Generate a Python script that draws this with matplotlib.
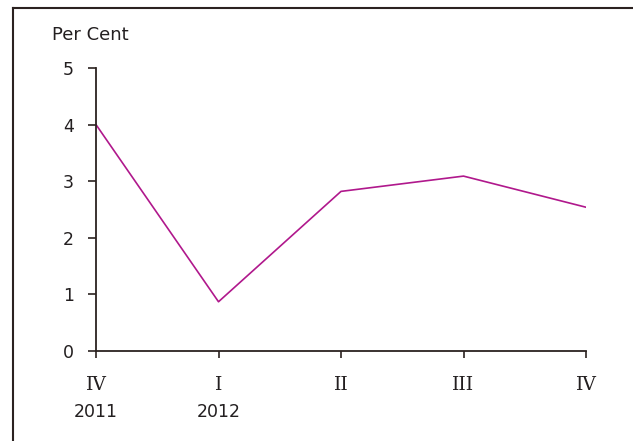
import matplotlib
matplotlib.use("Agg")
import matplotlib.pyplot as plt
from matplotlib.lines import Line2D
import matplotlib.transforms as mtransforms

quarters = ["IV", "I", "II", "III", "IV"]
years = ["2011", "2012", "", "", ""]
values = [4.0, 0.87, 2.82, 3.09, 2.54]
yticks = [0, 1, 2, 3, 4, 5]

W, H = 633, 441
fig = plt.figure(figsize=(W / 100, H / 100), dpi=100)
ax = fig.add_axes([96 / W, 1 - 351 / H, (586 - 96) / W, (351 - 68) / H])

x = list(range(len(values)))
ax.plot(x, values, color="#B0188C", lw=1.2)
ax.set_xlim(0, len(values) - 1)
ax.set_ylim(0, 5)

ax.spines["top"].set_visible(False)
ax.spines["right"].set_visible(False)
for s in ["left", "bottom"]:
    ax.spines[s].set_color("#2b2220")
    ax.spines[s].set_linewidth(1.3)

ax.set_yticks(yticks)
ax.set_yticklabels([str(v) for v in yticks], fontsize=12.5, color="#231f20",
                   family="DejaVu Sans")
ax.tick_params(axis="y", direction="out", length=6, width=1.2, color="#2b2220", pad=10)
ax.set_xticks(x)
ax.set_xticklabels(quarters, fontsize=13.5, color="#231f20", family="DejaVu Serif")
ax.tick_params(axis="x", direction="out", length=5, width=1.2, color="#2b2220", pad=13)

trans = mtransforms.blended_transform_factory(ax.transData, fig.transFigure)
for xi, yr in zip(x, years):
    if yr:
        ax.text(xi, 1 - 412 / H, yr, transform=trans, ha="center", va="center",
                fontsize=12.5, color="#231f20", family="DejaVu Sans")

fig.text(52 / W, 1 - 35 / H, "Per Cent", ha="left", va="center", fontsize=13,
         color="#231f20", family="DejaVu Sans")

fig.add_artist(Line2D([13 / W, 13 / W], [0, 1 - 8 / H], transform=fig.transFigure,
                      color="#2b2220", lw=1.5))
fig.add_artist(Line2D([13 / W, 1], [1 - 8 / H, 1 - 8 / H], transform=fig.transFigure,
                      color="#2b2220", lw=1.5))

fig.savefig("out.png", dpi=100)
